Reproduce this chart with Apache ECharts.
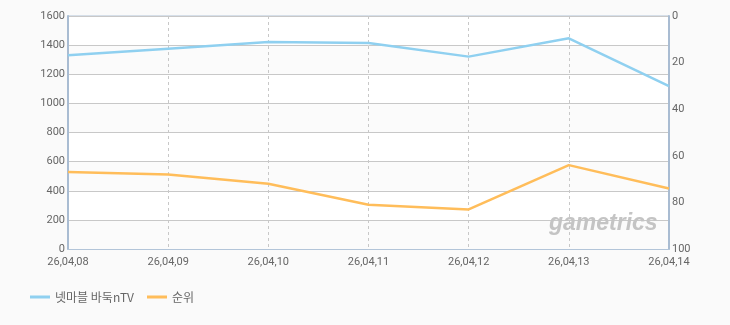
<!DOCTYPE html>
<html><head><meta charset="utf-8">
<script src="https://cdn.jsdelivr.net/npm/echarts@6/dist/echarts.min.js"></script>
<style>html,body{margin:0;padding:0;background:#fafafa;}#c{width:730px;height:325px;}</style>
</head><body><div id="c"></div>
<script>
const categories = ['26,04,08','26,04,09','26,04,10','26,04,11','26,04,12','26,04,13','26,04,14'];
const viewers = [1330, 1375, 1421, 1415, 1321, 1447, 1119];
const ranks = [67, 68, 72, 81, 83, 64, 74];
const seriesNames = ['넷마블 바둑nTV', '순위'];
const font = '"Noto Sans CJK KR", "DejaVu Sans", sans-serif';
const numFont = 'Roboto, "DejaVu Sans", sans-serif';
const chart = echarts.init(document.getElementById('c'), null, {renderer: 'canvas'});
chart.setOption({
  backgroundColor: '#fafafa',
  animation: false,
  grid: {left: 68, top: 16, right: 61, bottom: 76, show: true, borderColor: '#b3c5d9', borderWidth: 1, backgroundColor: '#fff'},
  legend: {
    left: 30, top: 291, padding: 0, itemWidth: 20, itemHeight: 12, itemGap: 13,
    textStyle: {color: '#666', fontSize: 12, fontFamily: font},
    data: seriesNames.map(n => ({name: n, icon: 'path://M0,5 L20,5 L20,8 L0,8 Z'}))
  },
  xAxis: {
    type: 'category', data: categories, boundaryGap: false,
    axisLine: {lineStyle: {color: '#b3c5d9', width: 1}},
    axisTick: {show: false},
    axisLabel: {color: '#666', fontSize: 11, fontFamily: numFont, margin: 8, showMaxLabel: true, showMinLabel: true, interval: 0},
    splitLine: {show: true, lineStyle: {color: '#c8c8c8', type: [3, 3]}}
  },
  yAxis: [{
    type: 'value', min: 0, max: 1600, interval: 200,
    axisLine: {show: true, lineStyle: {color: '#a9bcd2', width: 2}},
    axisTick: {show: false},
    axisLabel: {color: '#666', fontSize: 11, fontFamily: numFont, margin: 3, formatter: v => String(v)},
    splitLine: {lineStyle: {color: '#c8c8c8', width: 1}},
    splitArea: {show: true, areaStyle: {color: ['#fbfbfb', '#ffffff']}}
  }, {
    type: 'value', min: 0, max: 100, interval: 20, inverse: true,
    axisLine: {show: true, lineStyle: {color: '#a9bcd2', width: 2}},
    axisTick: {show: false},
    axisLabel: {color: '#666', fontSize: 11, fontFamily: numFont, margin: 3, formatter: v => String(v)},
    splitLine: {show: false}
  }],
  graphic: [{
    type: 'text', left: 549, top: 212, z: 1,
    style: {text: 'gametrics', fill: '#c4c4c4', font: 'italic bold 23px "Liberation Sans", sans-serif'}
  }],
  series: [{
    name: seriesNames[0], type: 'line', data: viewers, yAxisIndex: 0,
    symbol: 'none', lineStyle: {color: '#8fd0f0', width: 2.5}, itemStyle: {color: '#8fd0f0'}, z: 3
  }, {
    name: seriesNames[1], type: 'line', data: ranks, yAxisIndex: 1,
    symbol: 'none', lineStyle: {color: '#ffbd5a', width: 2.5}, itemStyle: {color: '#ffbd5a'}, z: 3
  }]
});
</script></body></html>
